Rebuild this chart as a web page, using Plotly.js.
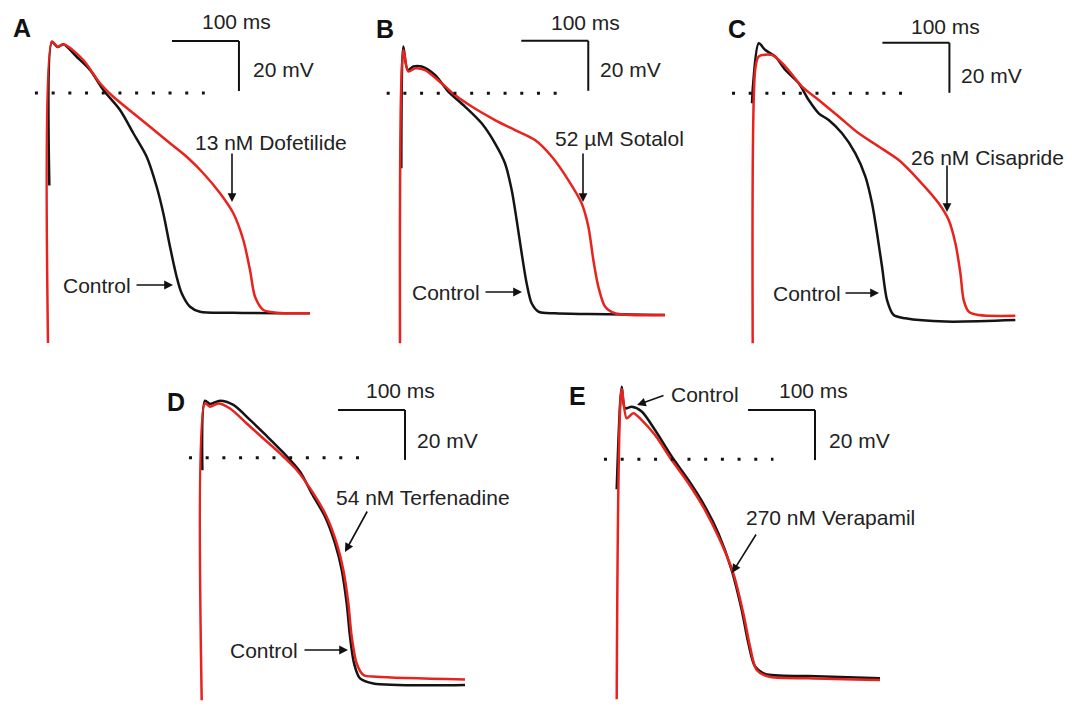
<!DOCTYPE html>
<html>
<head>
<meta charset="utf-8">
<script src="https://cdn.plot.ly/plotly-3.0.1.min.js"></script>
<style>html,body{margin:0;padding:0;background:#fff;}#chart{width:1072px;height:706px;}</style>
</head>
<body>
<div id="chart"></div>
<script>
// ---------- DATA (time in ms, membrane potential in mV) ----------
const panelLabels = ["A", "B", "C", "D", "E"];
const drugLabels = ["13 nM Dofetilide", "52 µM Sotalol", "26 nM Cisapride", "54 nM Terfenadine", "270 nM Verapamil"];
const controlLabel = "Control";
const timeBarLabel = "100 ms";
const voltBarLabel = "20 mV";

// Panel A
const A_ctrl_t = [2, 6, 14, 22.9, 42.8, 62.7, 82.6, 107.5, 127.4, 147.3, 162.2, 172.1, 182.1, 192, 199.5, 212, 226.9, 276.6, 391];
const A_ctrl_v = [-37, 20.5, 18.4, 19.5, 14.5, 9.2, 1.2, -6.8, -16.1, -25.5, -37.5, -48.1, -61.5, -73.5, -80.1, -85.5, -87.5, -87.9, -88.1];
const A_drug_t = [0, 6, 14, 24, 52.7, 77.6, 97.5, 127.4, 152.2, 182.1, 207, 231.8, 256.7, 276.6, 291.5, 301.5, 309, 321.4, 341.3, 391];
const A_drug_v = [-100, 20.5, 18.5, 19.4, 13.2, 3.9, -1.5, -8.1, -13.5, -20.1, -25.5, -32.1, -40.1, -48.1, -58.8, -70.8, -81.5, -86.8, -87.9, -88.1];

// Panel B
const B_ctrl_t = [2, 5, 11.4, 19.9, 32.3, 52.2, 72.1, 97, 121.9, 141.8, 156.7, 166.7, 174.1, 181.6, 189, 196.5, 206.5, 231.3, 281, 395.5];
const B_ctrl_v = [-30, 18.7, 9.3, 10.7, 10.7, 7.3, 0.7, -5.3, -12, -20, -28, -38.7, -50.7, -64, -76, -84, -87.3, -88, -88.3, -88.7];
const B_drug_t = [0, 5, 12.4, 22.4, 37.3, 62.2, 82.1, 107, 141.8, 171.6, 201.5, 226.4, 251.2, 271.1, 281.1, 288.6, 296, 306, 320.9, 395.5];
const B_drug_v = [-100, 17.3, 8.7, 10, 9.3, 4, -0.7, -5.3, -10.7, -14.7, -18.7, -25.3, -34.7, -44, -53.3, -66.7, -77.3, -85.3, -88, -88.7];

// Panel C
const C_ctrl_t = [-1, 0.5, 9, 18.9, 33.8, 48.8, 68.7, 83.6, 98.5, 113.4, 133.3, 153.2, 168.2, 178.1, 185.6, 193, 200.5, 210.4, 227.9, 287.6, 392];
const C_ctrl_v = [-4, 3.3, 20, 17.3, 14.7, 9.3, 4, -2.7, -8, -10.7, -16, -24, -33.3, -44, -56, -69.3, -82.7, -88.7, -90, -91.3, -90.7];
const C_drug_t = [0, 4, 9, 28.9, 48.8, 73.6, 98.5, 128.4, 158.2, 188.1, 218, 247.8, 277.6, 292.5, 302.5, 310, 314.9, 322.4, 337.3, 392];
const C_drug_v = [-100, 10, 14.7, 15.3, 10.7, 2.7, -2.7, -9.3, -16, -21.3, -26.7, -34.7, -44, -50.7, -60, -72, -82.7, -87.3, -88.7, -89];

// Panel D
const D_ctrl_t = [1, 5, 12.4, 27.4, 47.3, 72.1, 97, 121.9, 146.8, 164.2, 184.1, 199, 209, 216.4, 221.4, 227.4, 236.3, 256.2, 393];
const D_ctrl_v = [-5, 22.8, 21.5, 22.8, 21.1, 15.1, 8.7, 2, -5.6, -14.3, -23.6, -34.3, -44.9, -58.3, -71.6, -82.3, -88.3, -90.3, -90.9];
const D_drug_t = [0, 5, 12.4, 24.9, 42.3, 67.2, 92, 116.9, 141.8, 166.7, 186.6, 201.5, 211.4, 218.9, 223.9, 231.3, 241.3, 261.2, 393];
const D_drug_v = [-97, 21.7, 20.4, 21.7, 19.7, 13.7, 7.7, 1.7, -4.9, -14.3, -23.6, -34.3, -44.9, -58.3, -71.6, -82.3, -86.9, -87.6, -88.7];

// Panel E
const E_ctrl_t = [0, 7.5, 12.4, 22.4, 37.3, 57.2, 82.1, 107, 131.8, 151.7, 171.6, 186.6, 196.5, 206.5, 221.4, 286.1, 393];
const E_ctrl_v = [-12, 29, 20.4, 21, 19.1, 11.7, 1.1, -8.3, -18.9, -29.6, -44.3, -60.3, -73.6, -82.9, -85.9, -86.7, -87.6];
const E_drug_t = [0, 7.5, 14.9, 24.8, 37.3, 57.2, 82.1, 107, 131.8, 151.7, 174.1, 189, 199, 208.9, 226.4, 286.1, 393];
const E_drug_v = [-96, 28, 16.4, 18.4, 15.7, 9.7, -0.3, -9.6, -20.3, -30.9, -45.6, -61.6, -74.9, -84.3, -86.9, -87.6, -88.3];

// ---------- LAYOUT HELPERS ----------
const W = 1072, H = 706;
const SX = 0.67;  // px per ms
const SY = 2.5;   // px per mV
const RED = '#e8231e', BLACK = '#141414';
const FONT = '"Liberation Sans", Arial, sans-serif';
const FS = 21;

// pixel origin (t=0, V=0) of each panel
const origins = [[48, 93], [400, 93.3], [752.7, 93.3], [201.7, 457.7], [616.7, 459.3]];
// scale-bar corner (ms, mV) and dotted 0-mV line extent (ms)
const barCorner = [[285, 20.8], [281, 21], [293.6, 20.2], [303.4, 19.1], [296, 19.7]];
const dotSpan = [[-19.5, 234], [-19.9, 236], [-30.9, 225], [-19, 237], [-19, 234]];

const series = [
  [A_ctrl_t, A_ctrl_v, A_drug_t, A_drug_v],
  [B_ctrl_t, B_ctrl_v, B_drug_t, B_drug_v],
  [C_ctrl_t, C_ctrl_v, C_drug_t, C_drug_v],
  [D_ctrl_t, D_ctrl_v, D_drug_t, D_drug_v],
  [E_ctrl_t, E_ctrl_v, E_drug_t, E_drug_v]
];

const data = [];
const layout = {
  width: W, height: H,
  margin: {l: 0, r: 0, t: 0, b: 0},
  paper_bgcolor: '#ffffff', plot_bgcolor: 'rgba(0,0,0,0)',
  showlegend: false,
  font: {family: FONT, size: FS, color: '#222'},
  shapes: [], annotations: []
};

series.forEach((s, i) => {
  const n = i + 1;
  const xa = 'x' + (n === 1 ? '' : n), ya = 'y' + (n === 1 ? '' : n);
  const xk = 'xaxis' + (n === 1 ? '' : n), yk = 'yaxis' + (n === 1 ? '' : n);
  const [ox, oy] = origins[i];
  layout[xk] = {domain: [0, 1], range: [(0 - ox) / SX, (W - ox) / SX], visible: false, fixedrange: true, anchor: ya};
  layout[yk] = {domain: [0, 1], range: [(oy - H) / SY, oy / SY], visible: false, fixedrange: true, anchor: xa};
  data.push({x: s[0], y: s[1], xaxis: xa, yaxis: ya, mode: 'lines', line: {color: BLACK, width: 2.5, shape: 'spline', smoothing: 0.8}, hoverinfo: 'skip'});
  data.push({x: s[2], y: s[3], xaxis: xa, yaxis: ya, mode: 'lines', line: {color: RED, width: 2.5, shape: 'spline', smoothing: 0.8}, hoverinfo: 'skip'});
  const [cx, cy] = barCorner[i];
  layout.shapes.push({type: 'line', xref: xa, yref: ya, x0: cx - 100, x1: cx, y0: cy, y1: cy, line: {color: '#111', width: 2}});
  layout.shapes.push({type: 'line', xref: xa, yref: ya, x0: cx, x1: cx, y0: cy, y1: cy - 20, line: {color: '#111', width: 2}});
  layout.shapes.push({type: 'line', xref: xa, yref: ya, x0: dotSpan[i][0], x1: dotSpan[i][1], y0: 0, y1: 0, line: {color: '#111', width: 3, dash: '3px,13.7px'}});
});

function txt(s, x, y, opts) {
  layout.annotations.push(Object.assign({text: s, xref: 'paper', yref: 'paper', x: x / W, y: 1 - y / H,
    xanchor: 'center', yanchor: 'middle', showarrow: false, font: {family: FONT, size: FS, color: '#222'}}, opts || {}));
}
function arrow(x0, y0, x1, y1) {
  layout.annotations.push({text: '', xref: 'paper', yref: 'paper', x: x1 / W, y: 1 - y1 / H,
    ax: x0 - x1, ay: y0 - y1, showarrow: true, arrowhead: 2, arrowsize: 1.1, arrowwidth: 1.6, arrowcolor: '#111', standoff: 0, startstandoff: 0});
}

const letterPos = [[22, 28], [385, 29], [737, 29], [176, 402], [577, 396]];
const msPos = [[236, 22], [585, 23], [945, 27], [400, 390], [813, 390]];
const mvPos = [[283, 70], [630, 70], [991, 75], [447, 440], [859, 440]];
const drugPos = [[271, 143], [619, 138], [987, 157], [423, 497], [830, 517]];
const ctrlPos = [[97, 285], [446, 292], [807, 293], [264, 650], [705, 394]];
const drugArrows = [[232, 152, 232, 202], [583, 152, 583, 202], [947, 164, 947, 212], [368, 510, 345, 552], [757, 533, 732, 573]];
const ctrlArrows = [[135, 285, 173, 285], [484, 292, 522, 292], [844, 293, 879, 293], [303, 650, 348, 650], [665, 395, 637, 405]];

for (let i = 0; i < 5; i++) {
  txt('<b>' + panelLabels[i] + '</b>', letterPos[i][0], letterPos[i][1], {font: {family: FONT, size: 25, color: '#111'}});
  txt(timeBarLabel, msPos[i][0], msPos[i][1]);
  txt(voltBarLabel, mvPos[i][0], mvPos[i][1]);
  txt(drugLabels[i], drugPos[i][0], drugPos[i][1]);
  txt(controlLabel, ctrlPos[i][0], ctrlPos[i][1]);
  arrow.apply(null, drugArrows[i]);
  arrow.apply(null, ctrlArrows[i]);
}

Plotly.newPlot('chart', data, layout, {staticPlot: true, displayModeBar: false});
</script>
</body>
</html>
